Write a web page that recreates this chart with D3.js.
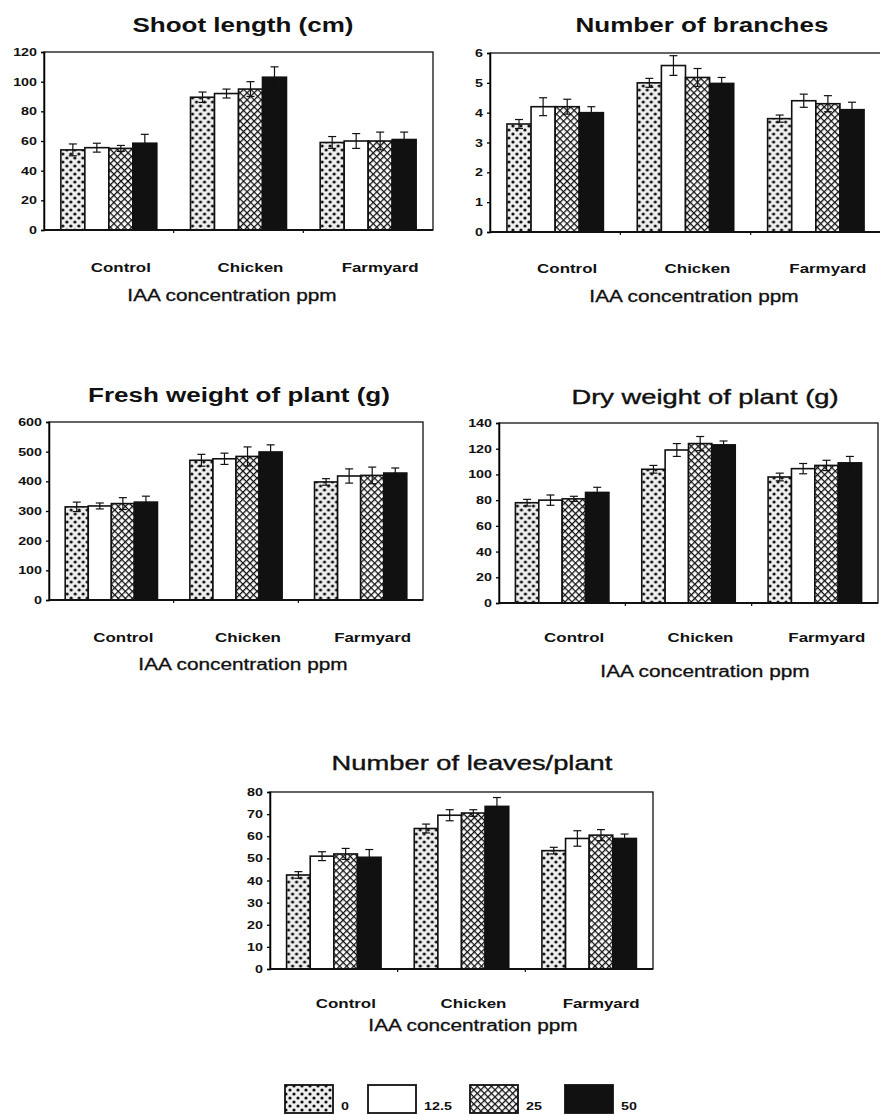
<!DOCTYPE html>
<html>
<head>
<meta charset="utf-8">
<script src="https://cdn.jsdelivr.net/npm/d3@7"></script>
<style>
  body { margin: 0; background: #fff; }
  svg text { font-family: "Liberation Sans", Arial, sans-serif; fill: #111; }
</style>
</head>
<body>
<svg id="chart" width="880" height="1115"></svg>
<script>
// data (rows = manure, cols = IAA ppm)
const categories = ['Control', 'Chicken', 'Farmyard'];
const doses = ['0', '12.5', '25', '50'];

const shootLength = [[54, 55.5, 55, 58.5], [89.5, 92, 95, 103], [59, 60, 60, 61]];
const shootLengthErr = [[4, 3, 2, 6], [3.5, 3, 5, 7], [4, 5, 6, 5]];

const branches = [[3.62, 4.2, 4.2, 4.0], [5.0, 5.58, 5.18, 4.98], [3.8, 4.4, 4.3, 4.1]];
const branchesErr = [[0.15, 0.3, 0.25, 0.2], [0.15, 0.33, 0.3, 0.2], [0.12, 0.22, 0.27, 0.25]];

const freshWeight = [[314, 317, 325, 330], [471, 476, 484, 499], [398, 418, 420, 428]];
const freshWeightErr = [[16, 10, 20, 20], [20, 19, 32, 24], [11, 24, 28, 17]];

const dryWeight = [[78, 80, 81, 86], [104, 119, 124, 123], [98, 104.5, 107, 109]];
const dryWeightErr = [[2.6, 4, 2, 4], [3, 5, 5.5, 3], [3, 4, 4, 5]];

const leaves = [[42.5, 51, 52, 50.5], [63.5, 69.5, 70.5, 73.5], [53.5, 59, 60.5, 59]];
const leavesErr = [[1.5, 2, 2.5, 3.5], [2, 2.5, 1.5, 4], [1.5, 3.5, 2.5, 2]];

const yTicksShoot = d3.range(0, 121, 20);
const yTicksBranches = d3.range(0, 7, 1);
const yTicksFresh = d3.range(0, 601, 100);
const yTicksDry = d3.range(0, 141, 20);
const yTicksLeaves = d3.range(0, 81, 10);

const xTitle = 'IAA concentration ppm';

// layout
const panels = [
  { title: 'Shoot length (cm)', values: shootLength, errs: shootLengthErr, ticks: yTicksShoot,
    left: 44, right: 433, top: 52, bottom: 230, titleX: 243, titleY: 32, bold: true, xtX: 232, xtY: 301, catY: 272 },
  { title: 'Number of branches', values: branches, errs: branchesErr, ticks: yTicksBranches,
    left: 490, right: 881, top: 53, bottom: 232, titleX: 702, titleY: 32, bold: true, xtX: 694, xtY: 302, catY: 273 },
  { title: 'Fresh weight of plant (g)', values: freshWeight, errs: freshWeightErr, ticks: yTicksFresh,
    left: 49, right: 423, top: 422, bottom: 600, titleX: 239, titleY: 402, bold: true, xtX: 243, xtY: 670, catY: 642 },
  { title: 'Dry weight of plant (g)', values: dryWeight, errs: dryWeightErr, ticks: yTicksDry,
    left: 499, right: 878, top: 423, bottom: 603, titleX: 705, titleY: 404, bold: false, xtX: 705, xtY: 677, catY: 642 },
  { title: 'Number of leaves/plant', values: leaves, errs: leavesErr, ticks: yTicksLeaves,
    left: 270, right: 653, top: 792, bottom: 969, titleX: 472, titleY: 770, bold: false, xtX: 473, xtY: 1031, catY: 1008 }
];

const svg = d3.select('#chart');
const defs = svg.append('defs');

// stippled fill for 0 ppm
const dots = defs.append('pattern').attr('id', 'dots')
  .attr('width', 8).attr('height', 8).attr('patternUnits', 'userSpaceOnUse');
dots.append('rect').attr('width', 8).attr('height', 8).attr('fill', '#eee');
dots.append('circle').attr('cx', 2).attr('cy', 2).attr('r', 1.6).attr('fill', '#111');
dots.append('circle').attr('cx', 6).attr('cy', 6).attr('r', 1.6).attr('fill', '#111');

// cross hatch for 25 ppm
const hatch = defs.append('pattern').attr('id', 'hatch')
  .attr('width', 5).attr('height', 5).attr('patternUnits', 'userSpaceOnUse')
  .attr('patternTransform', 'rotate(45)');
hatch.append('rect').attr('width', 5).attr('height', 5).attr('fill', '#fff');
hatch.append('path').attr('d', 'M0 0H5M0 0V5').attr('stroke', '#111').attr('stroke-width', 2.6);

const fills = ['url(#dots)', '#fff', 'url(#hatch)', '#111'];

panels.forEach(p => {
  const g = svg.append('g');

  const x = d3.scaleBand().domain(categories)
    .range([p.left, p.right]).paddingInner(0.26).paddingOuter(0.13);
  const xs = d3.scaleBand().domain(doses).range([0, x.bandwidth()]);
  const y = d3.scaleLinear().domain([0, d3.max(p.ticks)]).range([p.bottom, p.top]);

  // frame
  g.append('rect')
    .attr('x', p.left).attr('y', p.top)
    .attr('width', p.right - p.left).attr('height', p.bottom - p.top)
    .attr('fill', 'none').attr('stroke', '#111').attr('stroke-width', 1.3);

  // bars
  categories.forEach((c, ci) => {
    const grp = g.append('g').attr('transform', `translate(${x(c)},0)`);
    doses.forEach((d, di) => {
      const v = p.values[ci][di];
      grp.append('rect')
        .attr('x', xs(d)).attr('y', y(v))
        .attr('width', xs.bandwidth()).attr('height', y(0) - y(v))
        .attr('fill', fills[di]).attr('stroke', '#111').attr('stroke-width', 1.6);
    });
    doses.forEach((d, di) => {
      const v = p.values[ci][di], e = p.errs[ci][di];
      const cx = xs(d) + xs.bandwidth() / 2;
      const eb = grp.append('g').attr('stroke', '#111').attr('stroke-width', 1.2);
      eb.append('line').attr('x1', cx).attr('x2', cx).attr('y1', y(v - e)).attr('y2', y(v + e));
      eb.append('line').attr('x1', cx - 4).attr('x2', cx + 4).attr('y1', y(v + e)).attr('y2', y(v + e));
      eb.append('line').attr('x1', cx - 4).attr('x2', cx + 4).attr('y1', y(v - e)).attr('y2', y(v - e));
    });
  });

  // y axis
  const ax = g.append('g').attr('transform', `translate(${p.left},0)`)
    .call(d3.axisLeft(y).tickValues(p.ticks).tickSize(3).tickPadding(4).tickFormat(d3.format('d')));
  ax.select('.domain').attr('stroke-width', 1.5);
  ax.selectAll('.tick line').attr('stroke-width', 1.3);
  ax.selectAll('text').attr('font-size', 11).attr('font-weight', 'bold')
    .attr('font-family', '"Liberation Sans", Arial, sans-serif').classed('wide', true);

  // bottom axis line + small ticks between groups
  g.append('line').attr('x1', p.left).attr('x2', p.right)
    .attr('y1', p.bottom).attr('y2', p.bottom).attr('stroke', '#111').attr('stroke-width', 2);
  const gap = x.step() * x.paddingInner() / 2;
  categories.slice(1).forEach(c => {
    g.append('line').attr('x1', x(c) - gap).attr('x2', x(c) - gap)
      .attr('y1', p.bottom).attr('y2', p.bottom + 3).attr('stroke', '#111').attr('stroke-width', 1.2);
  });

  // category labels
  categories.forEach(c => {
    g.append('text').attr('class', 'wide')
      .attr('x', x(c) + x.bandwidth() / 2 + 12).attr('y', p.catY)
      .attr('text-anchor', 'middle').attr('font-size', 13).attr('font-weight', 'bold')
      .text(c);
  });

  // titles
  g.append('text').attr('class', 'wide')
    .attr('x', p.titleX).attr('y', p.titleY).attr('text-anchor', 'middle')
    .attr('font-size', p.bold ? 20 : 21).attr('font-weight', p.bold ? 'bold' : 'normal')
    .attr('stroke', p.bold ? 'none' : '#111').attr('stroke-width', 0.4)
    .text(p.title);
  g.append('text').attr('class', 'wide')
    .attr('x', p.xtX).attr('y', p.xtY).attr('text-anchor', 'middle')
    .attr('font-size', 16).attr('stroke', '#111').attr('stroke-width', 0.3)
    .text(xTitle);
});

// legend
const legendX = [285, 368, 470, 565];
const legend = svg.append('g');
doses.forEach((d, i) => {
  legend.append('rect').attr('x', legendX[i]).attr('y', 1085)
    .attr('width', 48).attr('height', 28)
    .attr('fill', fills[i]).attr('stroke', '#111').attr('stroke-width', 1.8);
  legend.append('text').attr('class', 'wide')
    .attr('x', legendX[i] + 56).attr('y', 1110)
    .attr('font-size', 11).attr('font-weight', 'bold').text(d);
});

// the scanned lettering is wider than Arial
svg.selectAll('text.wide').each(function () {
  const len = this.getComputedTextLength();
  d3.select(this).attr('textLength', len * 1.3).attr('lengthAdjust', 'spacingAndGlyphs');
});
</script>
</body>
</html>
